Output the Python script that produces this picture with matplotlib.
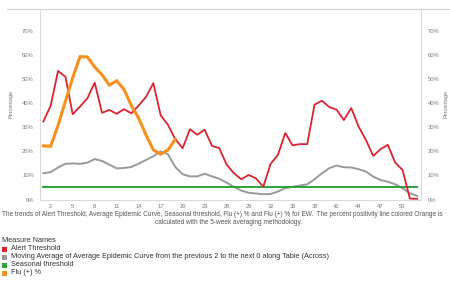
import numpy as np
import matplotlib
matplotlib.use('Agg')
import matplotlib.pyplot as plt
from matplotlib.patches import Rectangle
from matplotlib.lines import Line2D

plt.rcParams['font.family'] = ['Liberation Sans', 'DejaVu Sans']

weeks = np.arange(1, 53)
alert_threshold = [32.4, 39.0, 53.4, 51.0, 35.4, 38.6, 42.0, 48.5, 36.0, 37.2,
                   35.6, 37.5, 35.8, 39.0, 42.6, 48.3, 35.0, 31.0, 25.0, 21.3,
                   29.2, 26.9, 29.0, 22.3, 21.3, 14.5, 10.9, 8.4, 10.2, 8.8,
                   5.3, 14.8, 18.5, 27.6, 22.5, 23.0, 23.0, 39.4, 41.0, 38.4,
                   37.3, 33.0, 38.0, 30.3, 24.8, 18.1, 20.9, 22.7, 15.3, 12.3,
                   0.4, 0.3]
moving_avg = [10.9, 11.4, 13.3, 14.8, 15.0, 14.8, 15.3, 16.8, 16.0, 14.5,
              12.9, 13.1, 13.5, 14.9, 16.4, 18.0, 20.0, 18.8, 13.5, 10.5,
              9.6, 9.6, 10.7, 9.6, 8.6, 7.0, 5.3, 3.7, 2.8, 2.5,
              2.2, 2.3, 3.3, 4.7, 5.3, 5.8, 6.3, 8.4, 10.9, 13.0,
              14.1, 13.4, 13.3, 12.6, 11.6, 9.5, 8.1, 7.4, 6.3, 4.7,
              2.6, 1.5]
seasonal_threshold = [5.0] * 52
flu_weeks = np.arange(1, 20)
flu_pos = [22.3, 22.1, 30.8, 40.8, 50.6, 59.3, 59.2, 55.0, 51.8, 47.5,
           49.3, 45.7, 39.0, 33.8, 26.8, 20.6, 18.8, 20.6, 25.0]

x_ticks = list(range(2, 51, 3))
y_ticks = list(range(0, 71, 10))

series_names = ['Alert Threshold',
                'Moving Average of Average Epidemic Curve from the previous 2 '
                'to the next 0 along Table (Across)',
                'Seasonal threshold',
                'Flu (+) %']
colors = ['#dc2430', '#999999', '#2aa33a', '#f7901e']

W, H = 450, 285
fig = plt.figure(figsize=(W / 100, H / 100), dpi=100)
ax = fig.add_axes([39.5 / W, 1 - 200 / H, (421 - 39.5) / W, (200 - 9) / H])

ax.plot(weeks, alert_threshold, color=colors[0], lw=1.3, zorder=3)
ax.plot(weeks, moving_avg, color=colors[1], lw=1.4, zorder=2)
ax.plot(weeks, seasonal_threshold, color=colors[2], lw=1.4, zorder=2)
ax.plot(flu_weeks, flu_pos, color=colors[3], lw=2.2, zorder=4,
        solid_joinstyle='miter')

ax.set_xlim(0.47, 52.52)
ax.set_ylim(-0.2, 79.1)
ax.set_xticks(x_ticks)
ax.set_xticklabels([str(w) for w in x_ticks])
ax.set_yticks(y_ticks)
ax.set_yticklabels([f'{v}%' for v in y_ticks])
ax.tick_params(axis='both', length=0, labelsize=4.2, labelcolor='#777777')
ax.tick_params(axis='x', pad=3)
ax.tick_params(axis='y', pad=4)

ax2 = ax.twinx()
ax2.set_ylim(ax.get_ylim())
ax2.set_yticks(y_ticks)
ax2.set_yticklabels([f'{v}%' for v in y_ticks])
ax2.tick_params(axis='y', length=0, labelsize=4.2, labelcolor='#777777', pad=5)

for a in (ax, ax2):
    for s in a.spines.values():
        s.set_color('#d9d9d9')
        s.set_linewidth(0.7)
    a.spines['top'].set_visible(False)

ax.set_ylabel('Percentage', fontsize=4, color='#777777')
ax.yaxis.set_label_coords(-0.067, 0.5)
ax2.set_ylabel('Percentage', fontsize=4, color='#777777')
ax2.yaxis.set_label_coords(1.058, 0.5)

# header border across the full width
fig.add_artist(Line2D([7 / W, 1], [1 - 9 / H, 1 - 9 / H], color='#d0d0d0', lw=0.8))

caption1 = ('The trends of Alert Threshold, Average Epidemic Curve, Seasonal threshold, '
            'Flu (+) % and Flu (+) % for EW.  The percent positivity line colored Orange is')
caption2 = 'calculated with the 5-week averaging methodology.'
fig.text(2 / W, 1 - 215 / H, caption1, fontsize=4.7, color='#555555', va='center', ha='left')
fig.text(229 / W, 1 - 223 / H, caption2, fontsize=4.7, color='#555555', va='center', ha='center')

fig.text(2 / W, 1 - 241 / H, 'Measure Names', fontsize=5.3, color='#333333', va='center')
for i, (name, c) in enumerate(zip(series_names, colors)):
    yc = 249 + 8 * i
    fig.add_artist(Rectangle((2 / W, 1 - (yc + 2.5) / H), 5 / W, 5 / H,
                             facecolor=c, edgecolor='none'))
    fig.text(11 / W, 1 - yc / H, name, fontsize=5.3, color='#333333', va='center')

fig.savefig('out.png', dpi=100)
